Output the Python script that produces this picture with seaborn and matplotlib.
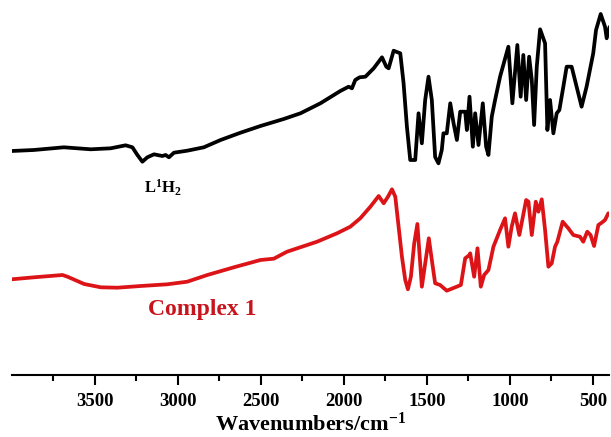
import matplotlib
matplotlib.use("Agg")
import matplotlib.pyplot as plt
import seaborn as sns
import pandas as pd

# Wavenumber (cm^-1) and transmittance (arbitrary units, offset) for the two spectra
lig_wn = [4000, 3867, 3686, 3524, 3404, 3314, 3273, 3243, 3213, 3183, 3143, 3093, 3073, 3053,
          3023, 2943, 2843, 2742, 2622, 2502, 2362, 2261, 2141, 2021, 1971, 1951, 1931, 1905,
          1870, 1820, 1770, 1744, 1730, 1700, 1660, 1640, 1620, 1600, 1570, 1550, 1530, 1510,
          1490, 1470, 1450, 1430, 1410, 1400, 1380, 1359, 1339, 1319, 1299, 1269, 1259, 1243,
          1223, 1209, 1189, 1163, 1143, 1129, 1109, 1089, 1059, 1009, 985, 955, 935, 919, 902,
          884, 868, 854, 838, 818, 788, 774, 758, 738, 718, 702, 678, 658, 628, 568, 538, 498,
          481, 453, 427, 417, 400]
lig_t = [224, 225, 227.7, 225.7, 226.7, 229.7, 227.7, 220, 213.3, 217.7, 220.7, 219, 220, 217.7,
         222.3, 224.3, 227.7, 235, 242.3, 249, 256, 261.7, 271.7, 284, 288.3, 286.7, 295, 297.7,
         298.3, 306.7, 317.7, 308.3, 306.7, 324.3, 321.7, 291.7, 248.3, 215, 215, 261.7, 231.7, 275,
         298.3, 275, 218, 211.7, 225, 241.7, 241.7, 271.7, 251.7, 235, 263.3, 263.3, 245, 278.3,
         228.3, 261.7, 230, 271.7, 228.3, 220, 258.3, 275, 298.3, 328.3, 271.7, 330, 278.3, 320, 275,
         318.3, 295, 250, 308.3, 345.7, 331.7, 245, 275, 241.7, 261.7, 265, 288.3, 308.3, 308.3, 268.3,
         288.3, 321.7, 345, 361, 348.3, 336.7, 348]

cpx_wn = [4000, 3865, 3694, 3664, 3564, 3464, 3364, 3223, 3063, 2943, 2822, 2662, 2502, 2422,
          2342, 2161, 2041, 1961, 1901, 1840, 1790, 1760, 1734, 1710, 1690, 1670, 1650, 1630,
          1614, 1596, 1576, 1557, 1540, 1530, 1504, 1488, 1470, 1450, 1420, 1380, 1329, 1295,
          1269, 1243, 1239, 1215, 1195, 1175, 1155, 1129, 1099, 1059, 1029, 1009, 989, 969, 943,
          902, 888, 868, 844, 828, 808, 788, 768, 748, 728, 714, 682, 648, 618, 578, 558, 534,
          514, 493, 467, 447, 427, 407]
cpx_t = [95.7, 97.7, 100, 98.3, 91, 87.7, 87.3, 89, 90.7, 93.3, 100, 107.7, 115, 116.3,
         123.3, 133.3, 141.7, 148.3, 156.7, 168.3, 179, 171.7, 178.3, 185.7, 178.3, 148.3, 118.3, 95,
         85.7, 98.3, 131.7, 151, 111.7, 88.3, 118.3, 136.7, 115, 91.7, 90, 84.3, 87.7, 90,
         116.7, 120, 121.7, 98.3, 126.7, 88.3, 100, 105, 128.3, 145, 156.7, 128.3, 148.3, 161.7, 140,
         175, 173.3, 140, 173.3, 163.3, 175.7, 145, 108.3, 111.7, 128.3, 133.3, 153.3, 146.7, 140,
         138.3, 133.3, 143.3, 140, 129, 150, 152.3, 155, 161.7]

xticks = [3500, 3000, 2500, 2000, 1500, 1000, 500]
minor_ticks = [3750, 3250, 2750, 2250, 1750, 1250, 750]
lig_label = r"$\mathbf{L^{1}H_{2}}$"
cpx_label = "Complex 1"
xlabel = r"$\mathbf{Wavenumbers/cm^{-1}}$"

sns.set_theme(style="white")
plt.rcParams["font.family"] = ["Liberation Serif", "DejaVu Serif"]
plt.rcParams["mathtext.fontset"] = "custom"
plt.rcParams["mathtext.rm"] = "Liberation Serif"
plt.rcParams["mathtext.bf"] = "Liberation Serif:bold"
plt.rcParams["mathtext.it"] = "Liberation Serif:italic"
plt.rcParams["text.color"] = "black"
plt.rcParams["axes.labelcolor"] = "black"
plt.rcParams["xtick.color"] = "black"

fig = plt.figure(figsize=(6.11, 4.37), dpi=100)
ax = fig.add_axes([11.7 / 611, 62 / 437, (609.5 - 11.7) / 611, 375 / 437])

df_l = pd.DataFrame({"wn": lig_wn, "t": lig_t})
df_c = pd.DataFrame({"wn": cpx_wn, "t": cpx_t})
red = "#dc1418"
line_kw = dict(lw=2.7, sort=False, estimator=None, solid_joinstyle="round", solid_capstyle="round")
sns.lineplot(data=df_l, x="wn", y="t", ax=ax, color="black", **line_kw)
sns.lineplot(data=df_c, x="wn", y="t", ax=ax, color=red, **line_kw)

ax.set_xlim(4000, 400)
ax.set_ylim(0, 375)
for s in ["left", "right", "top"]:
    ax.spines[s].set_visible(False)
ax.spines["bottom"].set_color("black")
ax.spines["bottom"].set_linewidth(1.5)
ax.set_yticks([])
ax.set_ylabel("")
ax.set_xticks(xticks)
ax.set_xticks(minor_ticks, minor=True)
ax.set_xticklabels([str(v) for v in xticks], fontsize=13.5, fontweight="bold")
ax.tick_params(axis="x", which="major", direction="out", length=7, width=1.5, color="black", pad=6, bottom=True)
ax.tick_params(axis="x", which="minor", direction="out", length=4, width=1.5, color="black", bottom=True)
ax.set_xlabel(xlabel, fontsize=16, labelpad=2)

ax.text(3091, 187, lig_label, ha="center", va="center", fontsize=12, color="black")
ax.text(2850, 65, cpx_label, ha="center", va="center", fontsize=17, fontweight="bold", color="#c8141c")

fig.savefig("out.png", dpi=100)
